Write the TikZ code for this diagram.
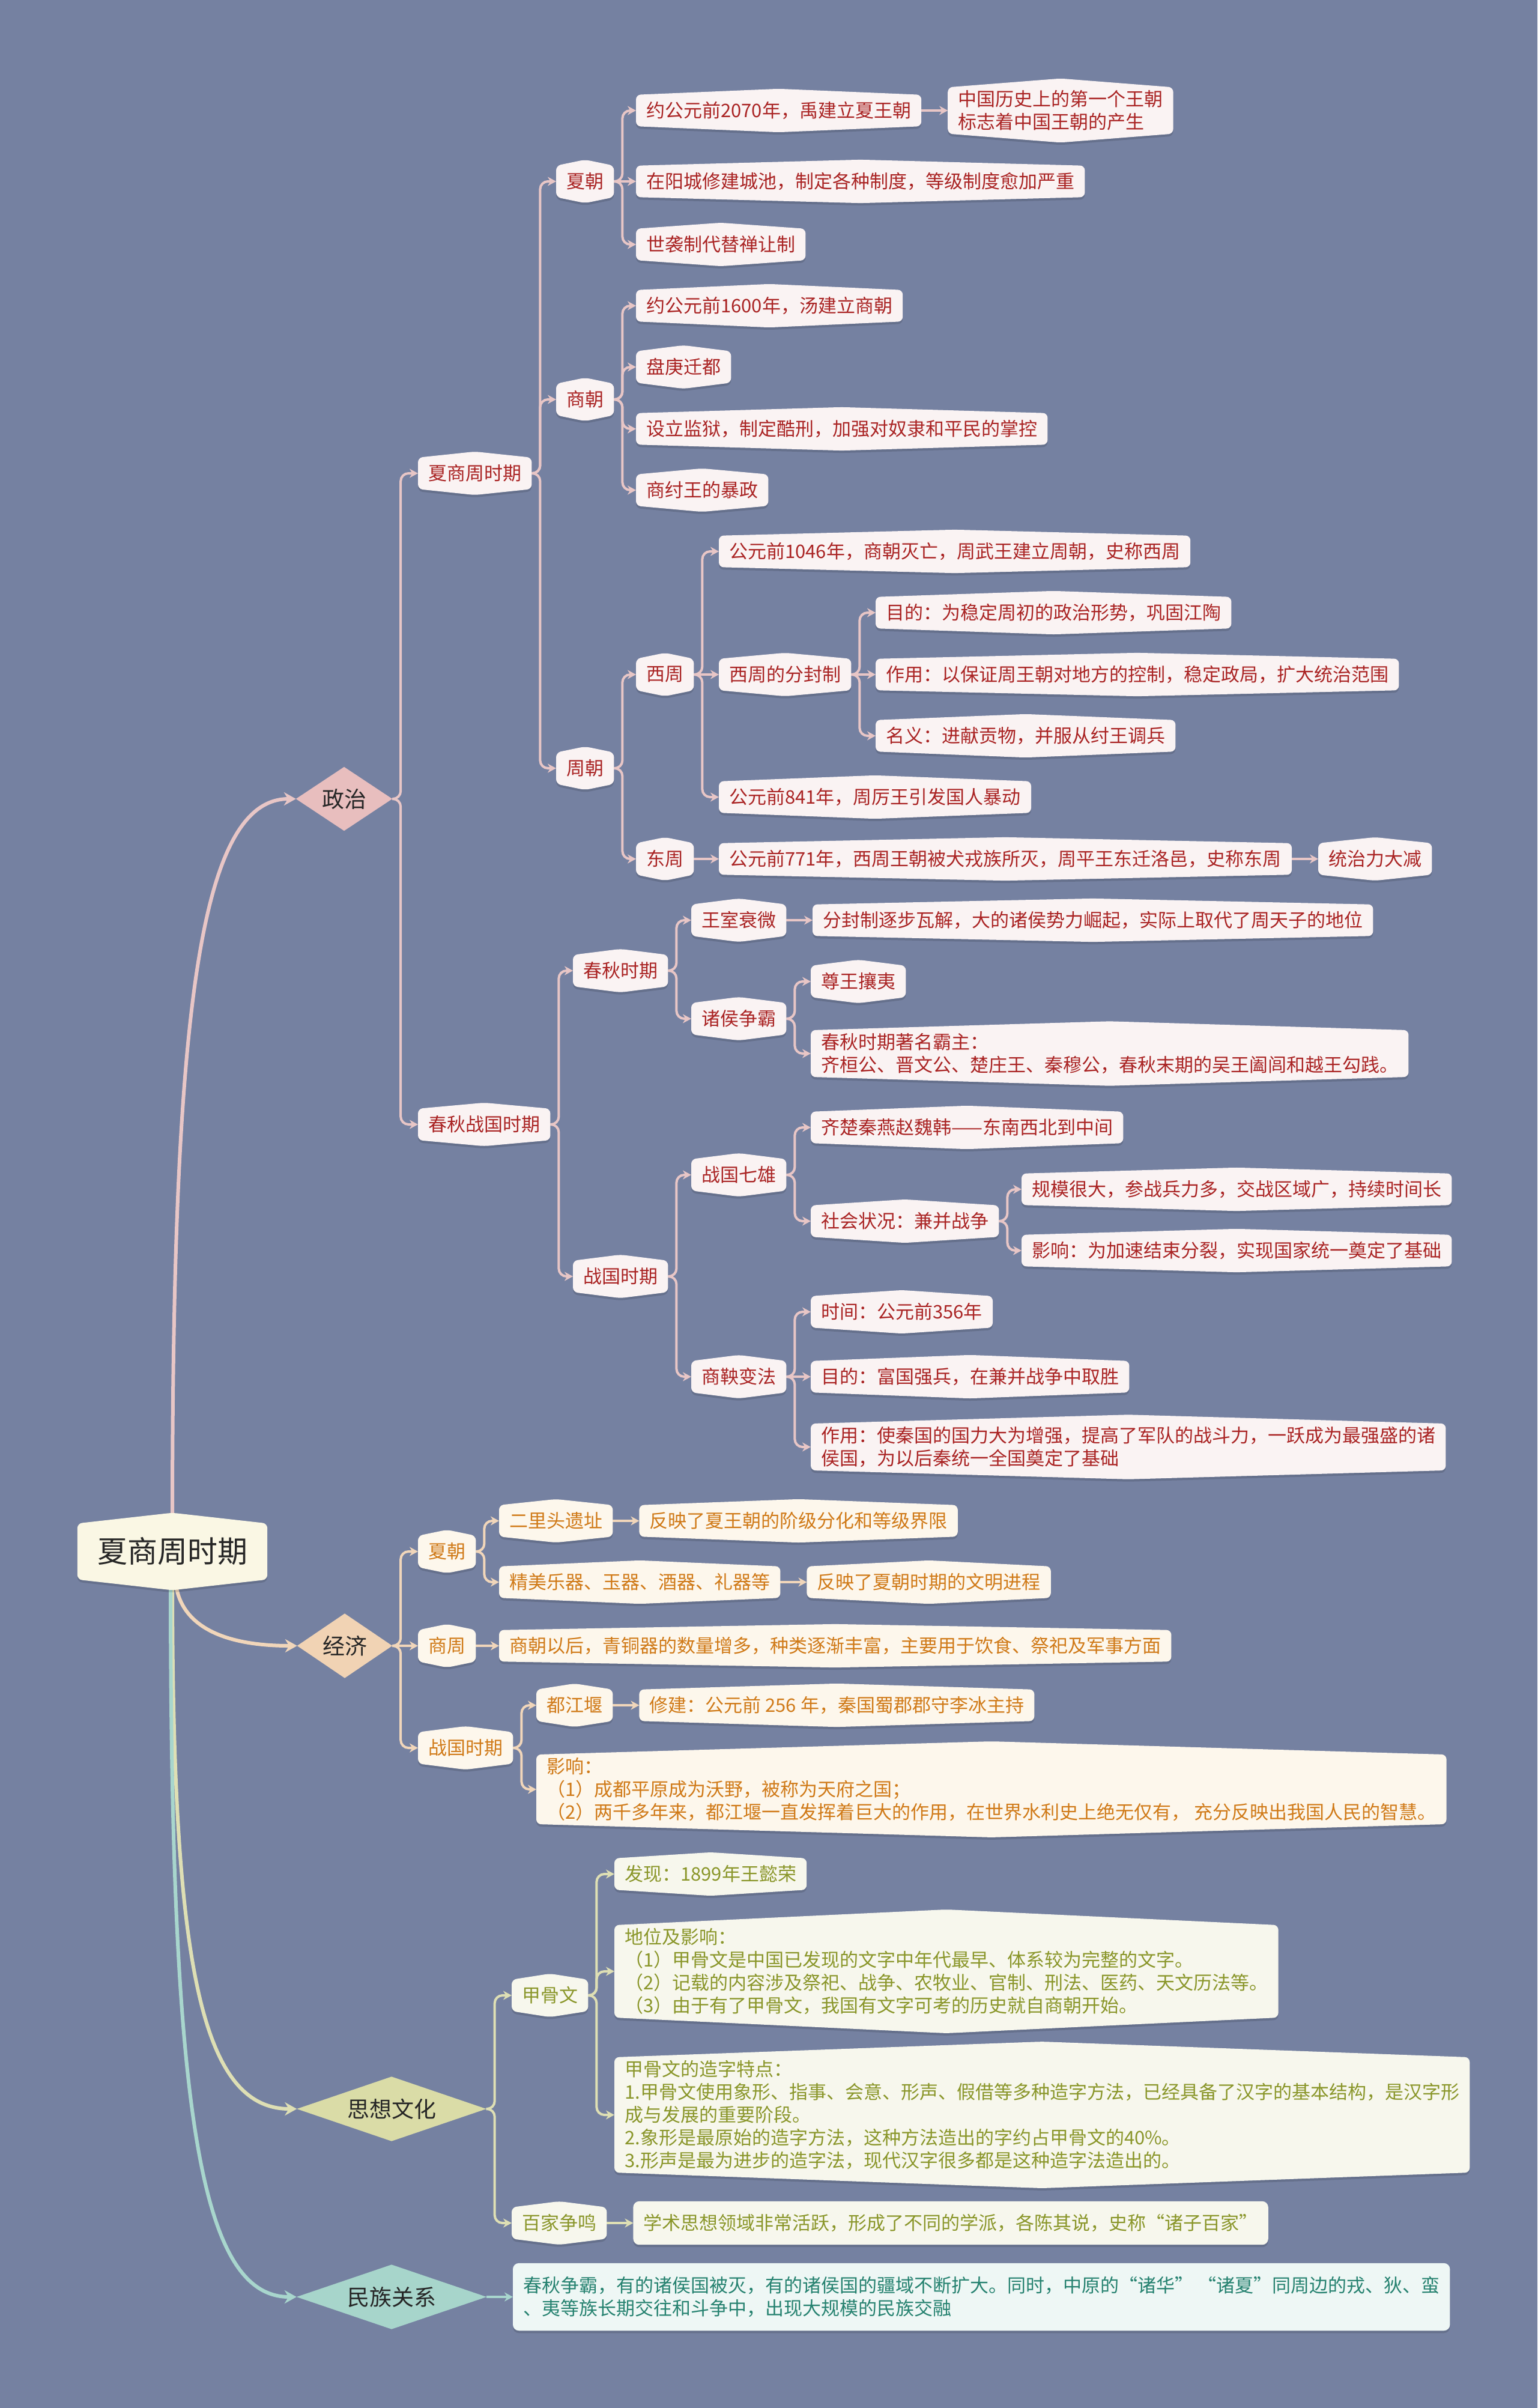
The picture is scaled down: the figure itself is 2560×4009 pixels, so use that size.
\documentclass[tikz,border=0pt]{standalone}
\usepackage{fontspec}
\setmainfont{Noto Sans CJK SC}
\usetikzlibrary{arrows.meta,backgrounds,calc,positioning}

\definecolor{bg}{RGB}{117,129,161}
\definecolor{poltext}{RGB}{170,36,36}
\definecolor{polfill}{RGB}{250,243,243}
\definecolor{polline}{RGB}{232,198,198}
\definecolor{poldia}{RGB}{232,190,190}
\definecolor{ecotext}{RGB}{208,122,24}
\definecolor{ecofill}{RGB}{253,247,236}
\definecolor{ecoline}{RGB}{241,214,186}
\definecolor{ecodia}{RGB}{241,211,180}
\definecolor{cultext}{RGB}{138,150,42}
\definecolor{culfill}{RGB}{247,247,237}
\definecolor{culline}{RGB}{222,223,180}
\definecolor{culdia}{RGB}{218,220,167}
\definecolor{mztext}{RGB}{38,130,112}
\definecolor{mzfill}{RGB}{238,247,245}
\definecolor{mzline}{RGB}{168,214,205}
\definecolor{mzdia}{RGB}{167,213,203}
\definecolor{rootfill}{RGB}{250,247,228}
\definecolor{darktext}{RGB}{38,38,38}

\tikzset{
  leafbox/.style={font=\fontsize{31}{38}\selectfont, inner xsep=17pt, inner ysep=5pt,
    minimum height=52pt, anchor=west, align=left},
  pn/.style={leafbox, text=poltext},
  en/.style={leafbox, text=ecotext},
  cn/.style={leafbox, text=cultext},
  mn/.style={leafbox, text=mztext},
  dianode/.style={font=\fontsize{37}{40}\selectfont, text=darktext, inner sep=0pt, anchor=center},
  conn/.style={line width=4pt, rounded corners=13pt, -{Stealth[length=14pt,width=15pt]}},
  polc/.style={conn, draw=polline},
  ecoc/.style={conn, draw=ecoline},
  culc/.style={conn, draw=culline},
  mzc/.style={conn, draw=mzline},
  mainc/.style={line width=6pt, -{Stealth[length=20pt,width=22pt]}},
}

\newcommand\hexshape[2]{%
  \path[#2, rounded corners=8pt] let \p1=(#1.north), \p2=(#1.south),
    \n1={min(0.19*(\y1-\y2),26)} in
    (#1.north west) -- ([yshift=\n1]#1.north) -- (#1.north east) --
    (#1.south east) -- ([yshift=-\n1]#1.south) -- (#1.south west) -- cycle;}
\newcommand\hexbg[2]{%
  \begin{scope}[transform canvas={yshift=-4pt}]\hexshape{#1}{fill=black, fill opacity=0.13}\end{scope}
  \hexshape{#1}{fill=#2}}
\newcommand\rrbg[2]{%
  \fill[black, opacity=0.13, rounded corners=10pt] ([yshift=-4pt]#1.north west) rectangle ([yshift=-4pt]#1.south east);
  \fill[#2, rounded corners=10pt] (#1.north west) rectangle (#1.south east);}
\newcommand\diabg[2]{\fill[#2] (#1.west) -- (#1.north) -- (#1.east) -- (#1.south) -- cycle;}
\newcommand\br[3]{\draw[#1] (#2.east) -- ++(14pt,0) |- (#3.west);}
\newcommand\st[3]{\draw[#1] (#2.east) -- (#3.west);}

\begin{document}
\begin{tikzpicture}[x=1pt, y=-1pt]
\useasboundingbox (0,0) rectangle (2560,4009);

% root
\node[font=\fontsize{50}{56}\selectfont, text=darktext, minimum width=316pt, minimum height=93pt, inner sep=0pt] (rt) at (287,2583) {夏商周时期};

% ---------- politics ----------
\node[dianode, minimum width=160pt, minimum height=106pt] (zz) at (573,1330) {政治};
\node[pn] (a1) at (696,788) {夏商周时期};
\node[pn] (a2) at (696,1872) {春秋战国时期};
\node[pn] (xia) at (926,302) {夏朝};
\node[pn] (shang) at (926,665) {商朝};
\node[pn] (zhou) at (926,1279) {周朝};
\node[pn] (x1) at (1059,184) {约公元前2070年，禹建立夏王朝};
\node[pn, right=44pt of x1] (x1b) {中国历史上的第一个王朝\\标志着中国王朝的产生};
\node[pn] (x2) at (1059,302) {在阳城修建城池，制定各种制度，等级制度愈加严重};
\node[pn] (x3) at (1059,407) {世袭制代替禅让制};
\node[pn] (s1) at (1059,509) {约公元前1600年，汤建立商朝};
\node[pn] (s2) at (1059,611) {盘庚迁都};
\node[pn] (s3) at (1059,714) {设立监狱，制定酷刑，加强对奴隶和平民的掌控};
\node[pn] (s4) at (1059,816) {商纣王的暴政};
\node[pn] (xz) at (1059,1123) {西周};
\node[pn] (dz) at (1059,1430) {东周};
\node[pn] (w1) at (1197,918) {公元前1046年，商朝灭亡，周武王建立周朝，史称西周};
\node[pn] (w2) at (1197,1123) {西周的分封制};
\node[pn] (w3) at (1197,1327) {公元前841年，周厉王引发国人暴动};
\node[pn] (f1) at (1458,1020) {目的：为稳定周初的政治形势，巩固江陶};
\node[pn] (f2) at (1458,1123) {作用：以保证周王朝对地方的控制，稳定政局，扩大统治范围};
\node[pn] (f3) at (1458,1225) {名义：进献贡物，并服从纣王调兵};
\node[pn] (d1) at (1197,1430) {公元前771年，西周王朝被犬戎族所灭，周平王东迁洛邑，史称东周};
\node[pn, right=44pt of d1] (d2) {统治力大减};
\node[pn] (cq) at (954,1616) {春秋时期};
\node[pn] (zg) at (954,2125) {战国时期};
\node[pn] (ws) at (1151,1532) {王室衰微};
\node[pn] (ws2) at (1353,1532) {分封制逐步瓦解，大的诸侯势力崛起，实际上取代了周天子的地位};
\node[pn] (zh) at (1151,1696) {诸侯争霸};
\node[pn] (zw) at (1350,1634) {尊王攘夷};
\node[pn] (bz) at (1350,1754) {春秋时期著名霸主：\\齐桓公、晋文公、楚庄王、秦穆公，春秋末期的吴王阖闾和越王勾践。};
\node[pn] (qx) at (1151,1956) {战国七雄};
\node[pn] (sy) at (1151,2292) {商鞅变法};
\node[pn] (q1) at (1350,1877) {齐楚秦燕赵魏韩——东南西北到中间};
\node[pn] (q2) at (1350,2033) {社会状况：兼并战争};
\node[pn] (g1) at (1701,1980) {规模很大，参战兵力多，交战区域广，持续时间长};
\node[pn] (g2) at (1701,2082) {影响：为加速结束分裂，实现国家统一奠定了基础};
\node[pn] (y1) at (1350,2184) {时间：公元前356年};
\node[pn] (y2) at (1350,2292) {目的：富国强兵，在兼并战争中取胜};
\node[pn] (y3) at (1350,2409) {作用：使秦国的国力大为增强，提高了军队的战斗力，一跃成为最强盛的诸\\侯国，为以后秦统一全国奠定了基础};

% ---------- economy ----------
\node[dianode, minimum width=158pt, minimum height=107pt] (jj) at (574,2740) {经济};
\node[en] (e1) at (696,2583) {夏朝};
\node[en] (e2) at (696,2740) {商周};
\node[en] (e3) at (696,2910) {战国时期};
\node[en] (e11) at (831,2532) {二里头遗址};
\node[en, right=44pt of e11] (e11b) {反映了夏王朝的阶级分化和等级界限};
\node[en] (e12) at (831,2634) {精美乐器、玉器、酒器、礼器等};
\node[en, right=44pt of e12] (e12b) {反映了夏朝时期的文明进程};
\node[en] (e21) at (831,2740) {商朝以后，青铜器的数量增多，种类逐渐丰富，主要用于饮食、祭祀及军事方面};
\node[en] (e31) at (893,2839) {都江堰};
\node[en, right=44pt of e31] (e31b) {修建：公元前 256 年，秦国蜀郡郡守李冰主持};
\node[en] (e32) at (893,2979) {影响：\\（1）成都平原成为沃野，被称为天府之国；\\（2）两千多年来，都江堰一直发挥着巨大的作用，在世界水利史上绝无仅有， 充分反映出我国人民的智慧。};

% ---------- culture ----------
\node[dianode, minimum width=315pt, minimum height=107pt] (sx) at (652,3511) {思想文化};
\node[cn] (c1) at (852,3322) {甲骨文};
\node[cn] (c2) at (852,3701) {百家争鸣};
\node[cn] (c11) at (1023,3120) {发现：1899年王懿荣};
\node[cn] (c12) at (1023,3282) {地位及影响：\\（1）甲骨文是中国已发现的文字中年代最早、体系较为完整的文字。\\（2）记载的内容涉及祭祀、战争、农牧业、官制、刑法、医药、天文历法等。\\（3）由于有了甲骨文，我国有文字可考的历史就自商朝开始。};
\node[cn] (c13) at (1023,3521) {甲骨文的造字特点：\\1.甲骨文使用象形、指事、会意、形声、假借等多种造字方法，已经具备了汉字的基本结构，是汉字形\\成与发展的重要阶段。\\2.象形是最原始的造字方法，这种方法造出的字约占甲骨文的40\%。\\3.形声是最为进步的造字法，现代汉字很多都是这种造字法造出的。};
\node[cn, right=44pt of c2, minimum height=72pt] (c21) {学术思想领域非常活跃，形成了不同的学派，各陈其说，史称“诸子百家”};

% ---------- ethnic relations ----------
\node[dianode, minimum width=316pt, minimum height=107pt] (mz) at (652,3824) {民族关系};
\node[mn, minimum height=112pt] (m1) at (854,3824) {春秋争霸，有的诸侯国被灭，有的诸侯国的疆域不断扩大。同时，中原的“诸华” “诸夏”同周边的戎、狄、蛮\\、夷等族长期交往和斗争中，出现大规模的民族交融};

\begin{scope}[on background layer]
\fill[bg] (0,0) rectangle (2560,4009);

% main connectors
\draw[mainc, draw=polline] (rt.north) .. controls (287,1700) and (330,1330) .. (zz.west);
\draw[mainc, draw=ecoline] ([xshift=5pt]rt.south) .. controls (297,2700) and (360,2740) .. (jj.west);
\draw[mainc, draw=culline] (rt.south) .. controls (287,3250) and (330,3511) .. (sx.west);
\draw[mainc, draw=mzline] ([xshift=-3pt]rt.south) .. controls (284,3500) and (330,3824) .. (mz.west);

% politics tree
\br{polc}{zz}{a1} \br{polc}{zz}{a2}
\br{polc}{a1}{xia} \br{polc}{a1}{shang} \br{polc}{a1}{zhou}
\br{polc}{xia}{x1} \st{polc}{xia}{x2} \br{polc}{xia}{x3}
\st{polc}{x1}{x1b}
\br{polc}{shang}{s1} \br{polc}{shang}{s2} \br{polc}{shang}{s3} \br{polc}{shang}{s4}
\br{polc}{zhou}{xz} \br{polc}{zhou}{dz}
\br{polc}{xz}{w1} \st{polc}{xz}{w2} \br{polc}{xz}{w3}
\br{polc}{w2}{f1} \st{polc}{w2}{f2} \br{polc}{w2}{f3}
\st{polc}{dz}{d1} \st{polc}{d1}{d2}
\br{polc}{a2}{cq} \br{polc}{a2}{zg}
\br{polc}{cq}{ws} \br{polc}{cq}{zh}
\st{polc}{ws}{ws2}
\br{polc}{zh}{zw} \br{polc}{zh}{bz}
\br{polc}{zg}{qx} \br{polc}{zg}{sy}
\br{polc}{qx}{q1} \br{polc}{qx}{q2}
\br{polc}{q2}{g1} \br{polc}{q2}{g2}
\br{polc}{sy}{y1} \st{polc}{sy}{y2} \br{polc}{sy}{y3}

% economy tree
\br{ecoc}{jj}{e1} \st{ecoc}{jj}{e2} \br{ecoc}{jj}{e3}
\br{ecoc}{e1}{e11} \br{ecoc}{e1}{e12}
\st{ecoc}{e11}{e11b} \st{ecoc}{e12}{e12b}
\st{ecoc}{e2}{e21}
\br{ecoc}{e3}{e31} \br{ecoc}{e3}{e32}
\st{ecoc}{e31}{e31b}

% culture tree
\br{culc}{sx}{c1} \br{culc}{sx}{c2}
\br{culc}{c1}{c11} \br{culc}{c1}{c12} \br{culc}{c1}{c13}
\st{culc}{c2}{c21}

% ethnic
\st{mzc}{mz}{m1}

% node backgrounds
\diabg{zz}{poldia}
\diabg{jj}{ecodia}
\diabg{sx}{culdia}
\diabg{mz}{mzdia}
\hexbg{rt}{rootfill}
\foreach \nd in {a1,a2,xia,shang,zhou,x1,x1b,x2,x3,s1,s2,s3,s4,xz,dz,w1,w2,w3,f1,f2,f3,d1,d2,cq,zg,ws,ws2,zh,zw,bz,qx,sy,q1,q2,g1,g2,y1,y2,y3}{\hexbg{\nd}{polfill}}
\foreach \nd in {e1,e2,e3,e11,e11b,e12,e12b,e21,e31,e31b,e32}{\hexbg{\nd}{ecofill}}
\foreach \nd in {c1,c2,c11,c12,c13}{\hexbg{\nd}{culfill}}
\rrbg{c21}{culfill}
\rrbg{m1}{mzfill}
\end{scope}
\end{tikzpicture}
\end{document}
